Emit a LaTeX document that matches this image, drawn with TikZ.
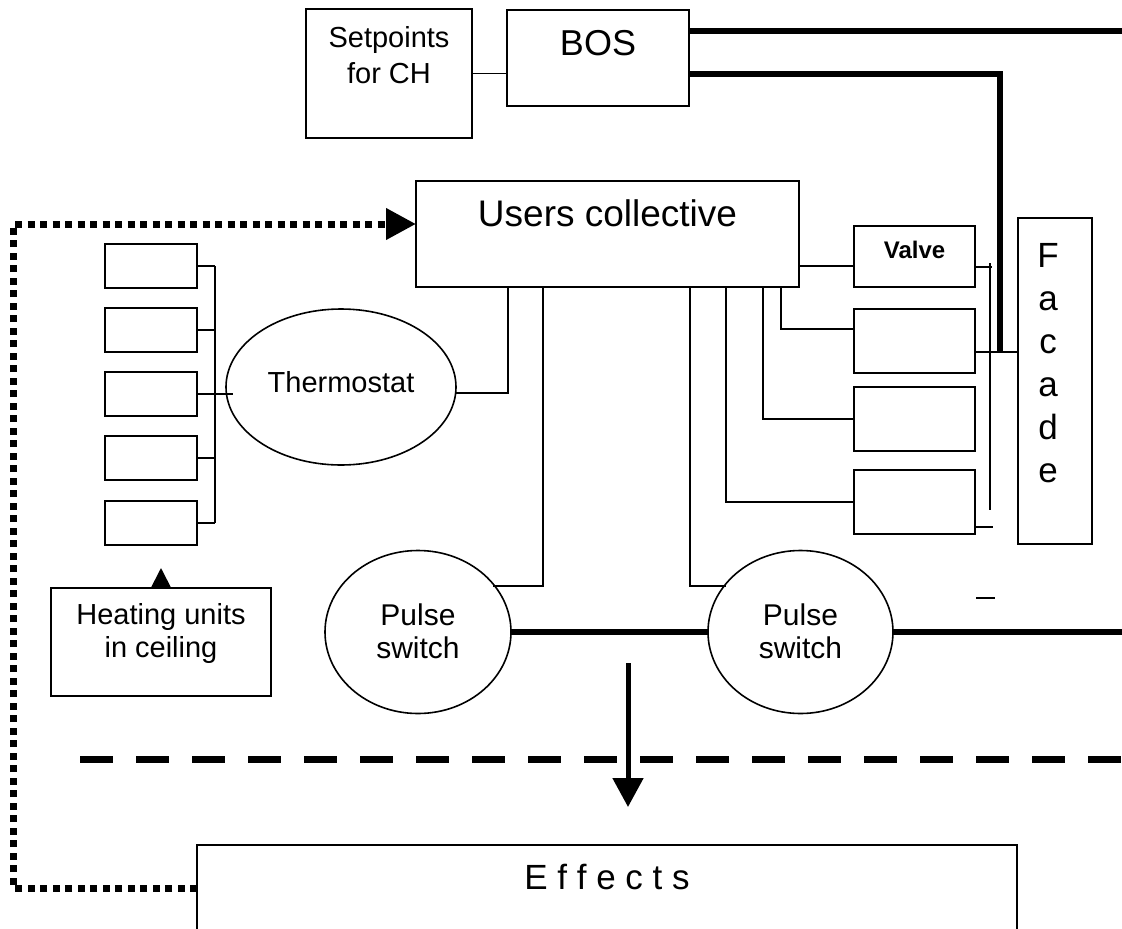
\documentclass[tikz,border=0pt]{standalone}
\usepackage{fontspec}
\setmainfont{Liberation Sans}
\usetikzlibrary{arrows.meta,calc,shapes.geometric}

\begin{document}
\begin{tikzpicture}[x=1pt,y=-1pt,
  box/.style={draw, line width=1.8pt, inner sep=0pt, outer sep=0pt},
  oval/.style={draw, ellipse, line width=1.6pt, inner sep=0pt, outer sep=0pt},
  lbl/.style={inner sep=0pt, align=center},
  wire/.style={line width=1.8pt},
  bus/.style={line width=6pt},
  divider/.style={line width=7pt, dash pattern=on 33pt off 23pt},
  feedback/.style={line width=7pt, dash pattern=on 7pt off 5.5pt,
    -{Triangle[length=30pt,width=30pt]}},
  flow/.style={line width=5pt, -{Triangle[length=29pt,width=30pt]}},
  pointer/.style={wire, -{Triangle[length=20pt,width=20pt]}}]

\useasboundingbox (0,0) rectangle (1122,929);

% --- building operating system and set points
\node[box, minimum width=166pt, minimum height=129pt] (setp) at (389,73.5) {};
\node[lbl, font=\fontsize{29}{36}\selectfont] (setpT) at (389,55) {Setpoints\\for CH};
\node[box, minimum width=182pt, minimum height=96pt] (bos) at (598,58) {};
\node[lbl, font=\fontsize{36}{43}\selectfont] (bosT) at (598,43) {BOS};

% --- users collective
\node[box, minimum width=383pt, minimum height=106pt] (users) at (607.5,234) {};
\node[lbl, font=\fontsize{37}{44}\selectfont] (usersT) at (607.5,213) {Users collective};

% --- heating units in the ceiling
\foreach \i/\y in {1/266,2/330,3/394,4/458,5/523}
  \node[box, minimum width=92pt, minimum height=44pt] (hu\i) at (151,\y) {};
\node[box, minimum width=220pt, minimum height=108pt] (heat) at (161,642) {};
\node[lbl, font=\fontsize{29}{33}\selectfont] (heatT) at (161,633) {Heating units\\in ceiling};

% --- thermostat and pulse switches
\node[oval, minimum width=230pt, minimum height=156pt] (thermo) at (341,387) {};
\node[lbl, font=\fontsize{29}{35}\selectfont] (thermoT) at (341,382) {Thermostat};
\node[oval, minimum width=186pt, minimum height=163pt] (pulse1) at (418,632) {};
\node[lbl, font=\fontsize{30}{33}\selectfont] (pulse1T) at (418,631) {Pulse\\switch};
\node[oval, minimum width=185pt, minimum height=163pt] (pulse2) at (800.5,632) {};
\node[lbl, font=\fontsize{30}{33}\selectfont] (pulse2T) at (800.5,631) {Pulse\\switch};

% --- valve, actuators and facade
\node[box, minimum width=121pt, minimum height=61pt] (valve) at (914.5,256.5) {};
\node[lbl, font=\fontsize{24}{28}\selectfont\bfseries] (valveT) at (914.5,250) {Valve};
\node[box, minimum width=121pt, minimum height=64pt] (v2) at (914.5,341) {};
\node[box, minimum width=121pt, minimum height=64pt] (v3) at (914.5,419) {};
\node[box, minimum width=121pt, minimum height=64pt] (v4) at (914.5,502) {};
\node[box, minimum width=74pt, minimum height=326pt] (facade) at (1055,381) {};
\node[lbl, anchor=north, font=\fontsize{35}{43}\selectfont] (facadeT) at (1048,243)
  {F\\a\\c\\a\\d\\e};

% --- effects
\coordinate (effNW) at (197,845);
\coordinate (effNE) at (1017,845);
\coordinate (effSW) at (197,929);
\coordinate (effSE) at (1017,929);
\draw[wire] (effSW) -- (effNW) -- (effNE) -- (effSE);
\node[lbl, font=\fontsize{35}{42}\selectfont] (effects) at (607,877) {E f f e c t s};

% --- BOS links
\draw[wire] (setp.east) -- (setp.east -| bos.west);
\coordinate (busA) at (1122,31);
\coordinate (busB0) at (1000,74);
\coordinate (busB) at (1000,352);
\draw[bus] (bos.east |- busA) -- (busA);
\draw[bus] (bos.east |- busB0) -- (busB0) -- (busB);
\draw[wire] (v2.east |- busB) -- (facade.west |- busB);

% --- valve and facade side wiring
\coordinate (valveIn) at (854,266);
\draw[wire] (users.east |- valveIn) -- (valveIn);
\coordinate (rTop) at (990,263);
\coordinate (rBot) at (990,510);
\coordinate (rTickA) at (992,267);
\coordinate (rTickB) at (993,527);
\draw[wire] (rTop) -- (rBot);
\draw[wire] (valve.east |- rTickA) -- (rTickA);
\draw[wire] (v4.east |- rTickB) -- (rTickB);
\coordinate (dashL) at (976,598);
\coordinate (dashR) at (995,598);
\draw[wire] (dashL) -- (dashR);

% --- drops from the users collective
\coordinate (tJ) at (508,393);
\draw[wire] (users.south -| tJ) -- (tJ) -- (thermo.east |- tJ);
\coordinate (p1Drop) at (543,586);
\coordinate (p1In) at ($(pulse1.center)+(75,-46)$);
\draw[wire] (users.south -| p1Drop) -- (p1Drop) -- (p1In);
\coordinate (p2Drop) at (690,586);
\coordinate (p2In) at ($(pulse2.center)+(-75,-46)$);
\draw[wire] (users.south -| p2Drop) -- (p2Drop) -- (p2In);
\coordinate (v4Drop) at (726,502);
\draw[wire] (users.south -| v4Drop) |- (v4.west);
\coordinate (v3Drop) at (763,419);
\draw[wire] (users.south -| v3Drop) |- (v3.west);
\coordinate (v2Drop) at (781,329);
\draw[wire] (users.south -| v2Drop) -- (v2Drop) -- (v2.west |- v2Drop);

% --- heating unit comb
\coordinate (combTop) at (215,266);
\coordinate (combBot) at (215,523);
\draw[wire] (combTop) -- (combBot);
\foreach \i in {1,2,4,5}
  \draw[wire] (hu\i.east) -- (hu\i.east -| combTop);
\coordinate (thIn) at (233,394);
\draw[wire] (hu3.east) -- (thIn);
\coordinate (heatTip) at (161,568);
\draw[pointer] (heat.north) -- (heatTip);

% --- pulse switch bus
\coordinate (busC) at (1122,632);
\draw[bus] (pulse1.east) -- (pulse2.west);
\draw[bus] (pulse2.east) -- (busC);

% --- divider and flow to the effects
\coordinate (divL) at (80,759);
\coordinate (divR) at (1122,759);
\draw[divider] (divL) -- (divR);
\coordinate (arTop) at (628,663);
\coordinate (arTip) at (628,807);
\draw[flow] (arTop) -- (arTip);

% --- feedback from the effects to the users
\coordinate (fbA) at (13,888);
\coordinate (fbB) at (13,224);
\draw[feedback] (effNW |- fbA) -- (fbA) -- (fbB) -- (users.west |- fbB);

\end{tikzpicture}
\end{document}
